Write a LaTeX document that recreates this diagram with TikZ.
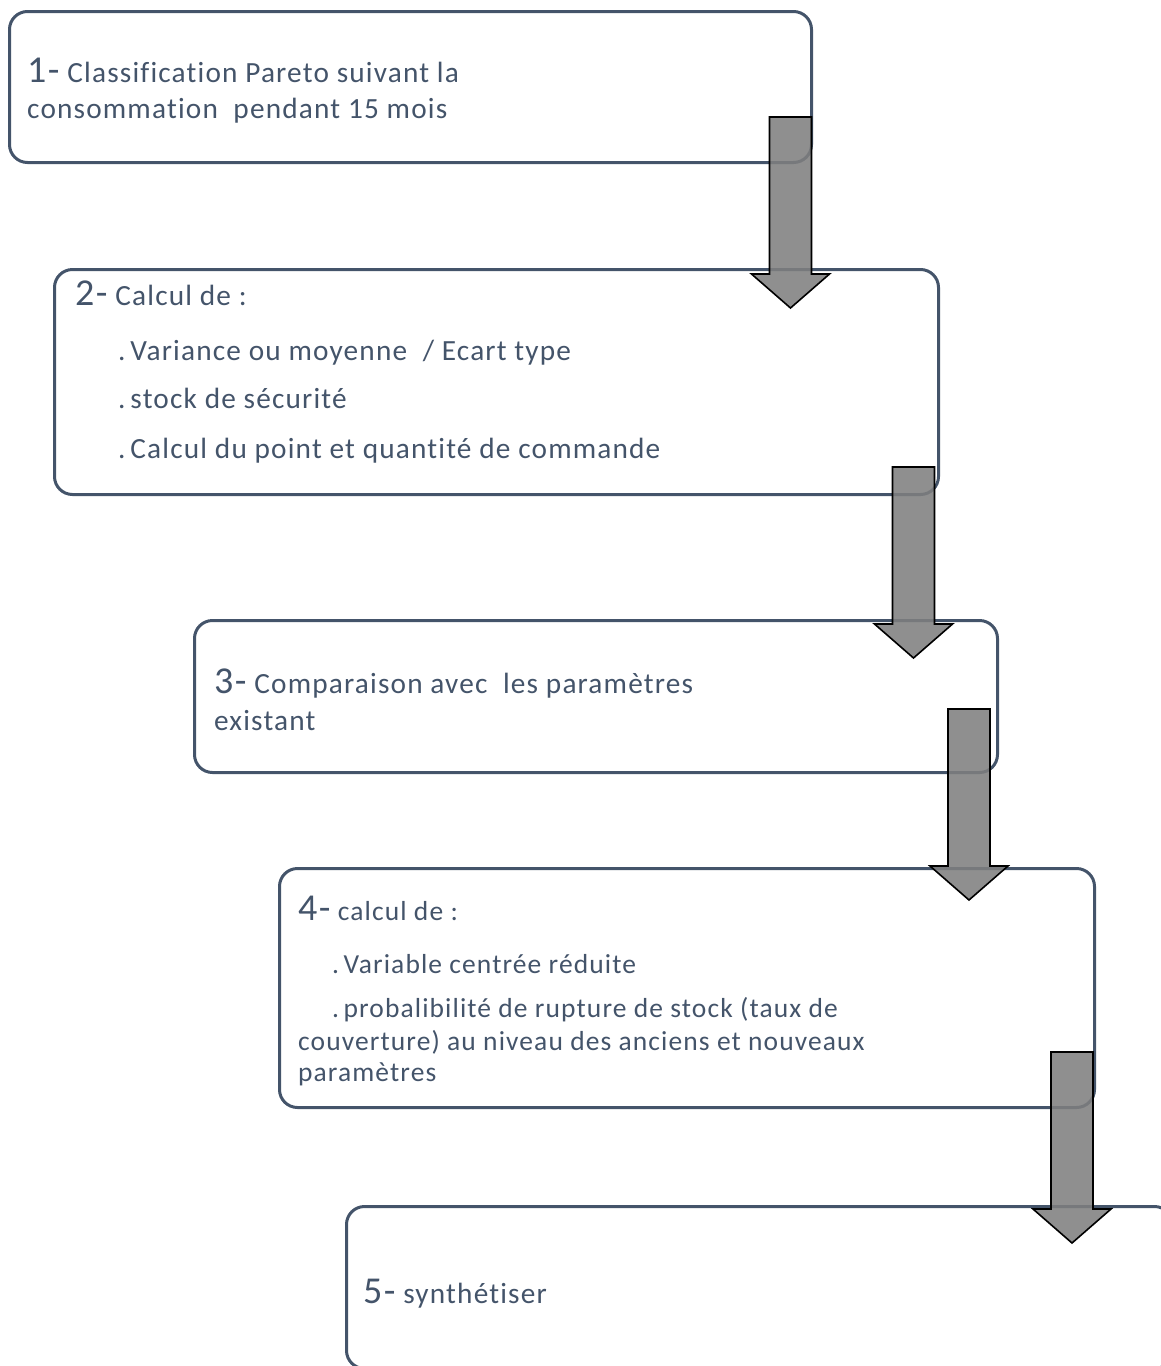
\documentclass[tikz,border=0pt]{standalone}
\usepackage{fontspec}
\setmainfont{Carlito}[Ligatures=NoCommon, LetterSpace=4]
\definecolor{ink}{HTML}{44546A}
\definecolor{arrowgray}{HTML}{7F7F7F}
\newcommand\stepnum[1]{{\fontsize{38}{38}\selectfont #1}}
\newcommand\flowarrow[1]{%
  \draw[flowpath] (#1) ++(-21,0) -- ++(0,157) -- ++(-18,0) -- ++(39,34)
    -- ++(39,-34) -- ++(-18,0) -- ++(0,-157) -- cycle;}
\begin{document}
\begin{tikzpicture}[x=1pt,y=-1pt,
  stepbox/.style={draw=ink, line width=3pt, rounded corners=18pt,
    anchor=north west, inner sep=0pt, outer sep=0pt},
  line/.style={anchor=base west, inner sep=0pt, text=ink,
    font=\fontsize{29.3}{33}\selectfont},
  smallline/.style={line, font=\fontsize{27.5}{33}\selectfont},
  flowpath/.style={draw=black, line width=1.6pt, fill=arrowgray,
    fill opacity=0.88, line join=miter}]
\useasboundingbox (0,0) rectangle (1161,1366);
\clip (0,0) rectangle (1161,1366);

% step frames
\node[stepbox, minimum width=802, minimum height=151] (s1) at (9.5,11.5) {};
\node[stepbox, minimum width=884, minimum height=225] (s2) at (54.5,269.5) {};
\node[stepbox, minimum width=803, minimum height=152] (s3) at (194.5,620.5) {};
\node[stepbox, minimum width=815, minimum height=239] (s4) at (279.5,868.5) {};
\node[stepbox, minimum width=826, minimum height=162] (s5) at (346.5,1206.5) {};

% step 1
\node[line] (t1a) at (27,82) {\stepnum{1-} Classification Pareto suivant la};
\node[line] (t1b) at (27,118) {consommation~ pendant 15 mois};

% step 2
\node[line] (t2a) at (75,305) {\stepnum{2-} Calcul de :};
\node[line] (t2b) at (118,360) {.\,Variance ou moyenne~ / Ecart type};
\node[line] (t2c) at (118,408) {.\,stock de sécurité};
\node[line] (t2d) at (118,458) {.\,Calcul du point et quantité de commande};

% step 3
\node[line] (t3a) at (214,693) {\stepnum{3-} Comparaison avec~ les paramètres};
\node[line] (t3b) at (214,730) {existant};

% step 4
\node[smallline] (t4a) at (298,920) {\stepnum{4-} calcul de :};
\node[smallline] (t4b) at (332,973) {.\,Variable centrée réduite};
\node[smallline] (t4c) at (332,1017) {.\,probalibilité de rupture de stock (taux de};
\node[smallline] (t4d) at (298,1050) {couverture) au niveau des anciens et nouveaux};
\node[smallline] (t4e) at (298,1081) {paramètres};

% step 5
\node[line] (t5a) at (363,1303) {\stepnum{5-} synthétiser};

% block arrows between the steps
\coordinate (a1) at (790.5,117);
\coordinate (a2) at (913.5,467);
\coordinate (a3) at (969,709);
\coordinate (a4) at (1072,1052);
\flowarrow{a1}
\flowarrow{a2}
\flowarrow{a3}
\flowarrow{a4}
\end{tikzpicture}
\end{document}
